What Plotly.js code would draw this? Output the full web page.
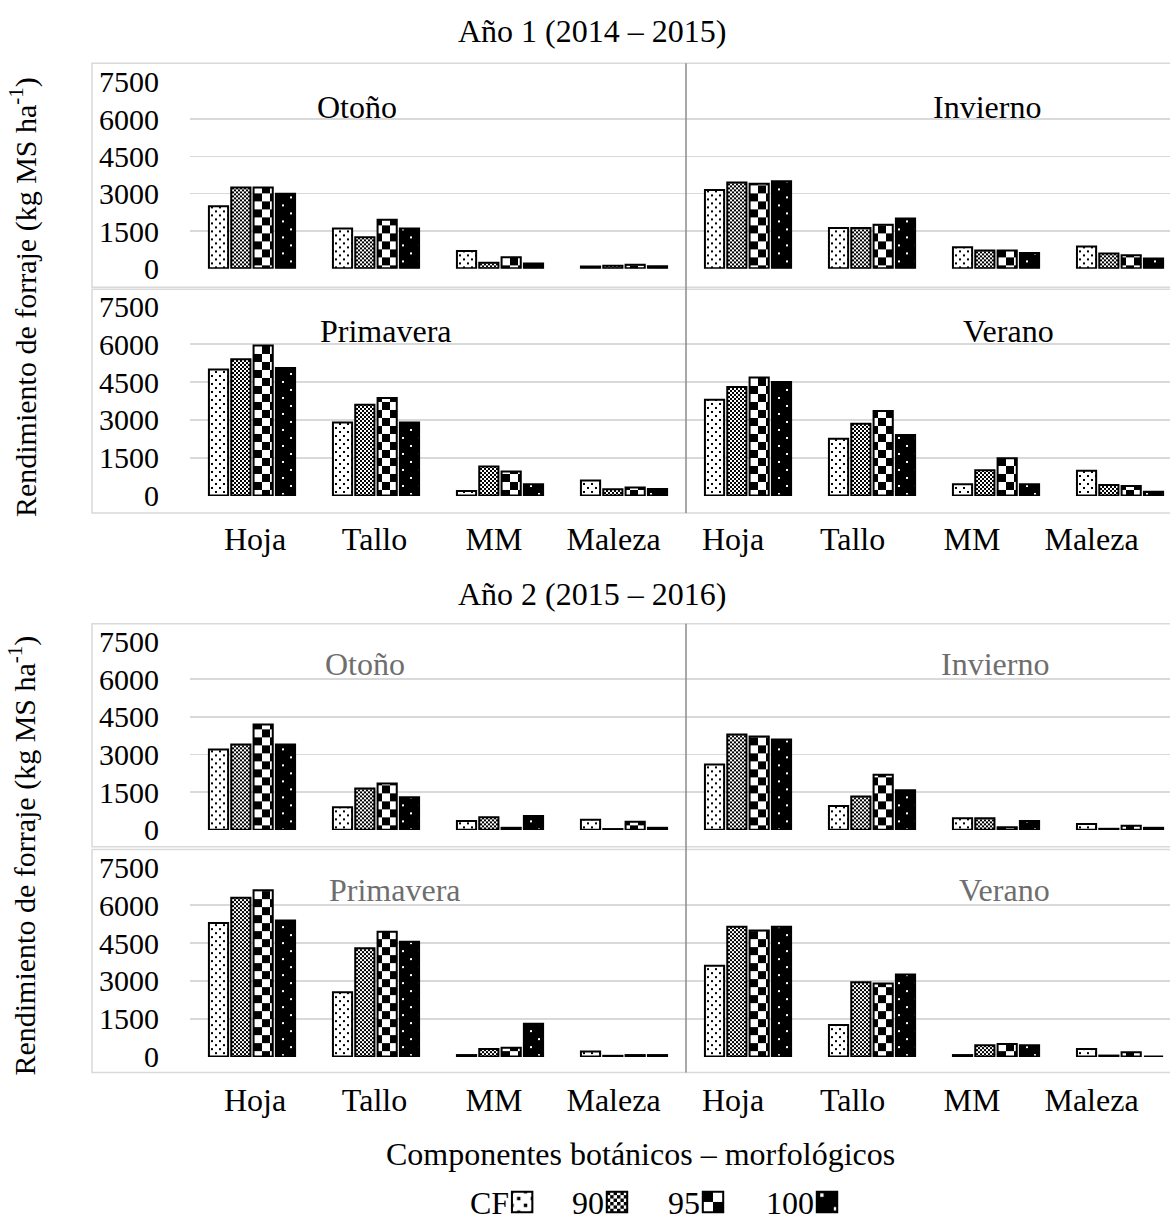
<!DOCTYPE html>
<html><head><meta charset="utf-8">
<script src="https://cdn.plot.ly/plotly-3.0.1.min.js"></script>
<style>html,body{margin:0;padding:0;background:#fff;overflow:hidden}#chart{position:absolute;left:0;top:0}</style>
</head><body><div id="chart"></div>
<script>
// ---- data ----
const categories = ['Hoja', 'Tallo', 'MM', 'Maleza'];
const seriesNames = ['CF', '90', '95', '100'];
const yTicks = [0, 1500, 3000, 4500, 6000, 7500];

// Año 1 (2014 – 2015)
const a1OtoCF  = [2500, 1600, 700, 70];
const a1Oto90  = [3250, 1250, 230, 100];
const a1Oto95  = [3250, 1950, 450, 140];
const a1Oto100 = [3000, 1600, 200, 80];
const a1InvCF  = [3150, 1620, 850, 880];
const a1Inv90  = [3450, 1620, 720, 600];
const a1Inv95  = [3400, 1750, 720, 530];
const a1Inv100 = [3500, 2000, 620, 400];
const a1PriCF  = [5000, 2900, 180, 600];
const a1Pri90  = [5400, 3600, 1150, 250];
const a1Pri95  = [5950, 3870, 950, 320];
const a1Pri100 = [5050, 2900, 450, 260];
const a1VerCF  = [3800, 2250, 450, 980];
const a1Ver90  = [4300, 2850, 1000, 420];
const a1Ver95  = [4680, 3350, 1480, 380];
const a1Ver100 = [4500, 2400, 450, 150];

// Año 2 (2015 – 2016)
const a2OtoCF  = [3200, 900, 350, 400];
const a2Oto90  = [3400, 1650, 500, 30];
const a2Oto95  = [4200, 1850, 80, 320];
const a2Oto100 = [3400, 1300, 550, 80];
const a2InvCF  = [2600, 950, 460, 230];
const a2Inv90  = [3800, 1330, 460, 40];
const a2Inv95  = [3720, 2200, 100, 160];
const a2Inv100 = [3600, 1580, 350, 80];
const a2PriCF  = [5300, 2550, 60, 200];
const a2Pri90  = [6300, 4300, 300, 30];
const a2Pri95  = [6600, 4950, 350, 60];
const a2Pri100 = [5400, 4550, 1300, 60];
const a2VerCF  = [3600, 1250, 60, 300];
const a2Ver90  = [5150, 2950, 450, 40];
const a2Ver95  = [5000, 2900, 500, 170];
const a2Ver100 = [5150, 3250, 450, 0];

const yearTitles = ['Año 1 (2014 – 2015)', 'Año 2 (2015 – 2016)'];
const seasonNames = ['Otoño', 'Invierno', 'Primavera', 'Verano'];
const yTitle = 'Rendimiento de forraje (kg MS ha<sup>-1</sup>)';
const xTitle = 'Componentes botánicos – morfológicos';

// ---- layout helpers (design grid 1170 x 1228, figure follows the actual viewport) ----
const DW = 1170, DH = 1228;
const W = window.innerWidth || DW;
const H = window.innerHeight || DH;
document.getElementById('chart').style.width = W + 'px';
document.getElementById('chart').style.height = H + 'px';
const sx = W / DW, sy = H / DH;
const px = v => v / DW;
const py = v => 1 - v / DH;
const FONT = 'Liberation Serif, Times New Roman, serif';
const FS = 32;

const rows = [
  { left: [a1OtoCF, a1Oto90, a1Oto95, a1Oto100], right: [a1InvCF, a1Inv90, a1Inv95, a1Inv100], zero: 271, top: 82.5, showX: false },
  { left: [a1PriCF, a1Pri90, a1Pri95, a1Pri100], right: [a1VerCF, a1Ver90, a1Ver95, a1Ver100], zero: 500.5, top: 309.3, showX: true },
  { left: [a2OtoCF, a2Oto90, a2Oto95, a2Oto100], right: [a2InvCF, a2Inv90, a2Inv95, a2Inv100], zero: 838, top: 648, showX: false },
  { left: [a2PriCF, a2Pri90, a2Pri95, a2Pri100], right: [a2VerCF, a2Ver90, a2Ver95, a2Ver100], zero: 1067, top: 876, showX: true }
];

const nativePatterns = [
  { shape: '.', fgcolor: '#000', bgcolor: '#fff', size: 6, solidity: 0.12 },
  { shape: 'x', fgcolor: '#000', bgcolor: '#fff', size: 4, solidity: 0.45 },
  { shape: '+', fgcolor: '#000', bgcolor: '#fff', size: 16, solidity: 0.5 },
  { shape: '.', fgcolor: '#fff', bgcolor: '#000', size: 8, solidity: 0.06 }
];

const xPos = categories.map((c, i) => i).concat(categories.map((c, i) => i + 4));
const xText = categories.concat(categories);
// category labels sit on a slightly tighter pitch than the bar groups (as in the reference)
const labelPitch = 119.5 / 124, labelShift = 3 / 124;
const labelPos = xPos.map(i => labelShift + i * labelPitch);

const data = [];
const layout = {
  width: W, height: H,
  margin: { l: 0, r: 0, t: 0, b: 0 },
  paper_bgcolor: '#fff', plot_bgcolor: 'rgba(0,0,0,0)',
  font: { family: FONT, size: FS, color: '#000' },
  barmode: 'group', bargap: 0.28, bargroupgap: 0.14,
  showlegend: true,
  legend: { orientation: 'h', x: 0.56, xanchor: 'center', y: py(1212), yanchor: 'middle',
            font: { family: FONT, size: FS, color: '#000' }, bgcolor: 'rgba(0,0,0,0)' },
  shapes: [], annotations: []
};

const pad = 12;
rows.forEach((r, k) => {
  const n = k + 1;
  const sfx = n === 1 ? '' : String(n);
  const kpx = (r.zero - r.top) / 7500;
  seriesNames.forEach((name, s) => {
    data.push({
      type: 'bar', name: name, legendgroup: name, showlegend: k === 0,
      x: xPos, y: r.left[s].concat(r.right[s]),
      xaxis: 'x' + sfx, yaxis: 'y' + sfx,
      marker: { color: nativePatterns[s].bgcolor, line: { color: '#000', width: 2 }, pattern: nativePatterns[s] },
      hoverinfo: 'skip'
    });
  });
  layout['xaxis' + sfx] = {
    domain: [px(190), 1], range: [-0.5, 7.403], anchor: 'y' + sfx,
    showgrid: false, zeroline: false, showline: false, ticks: '',
    tickmode: 'array', tickvals: labelPos, ticktext: xText,
    showticklabels: r.showX, ticklabelstandoff: Math.round(21 * sy),
    tickfont: { family: FONT, size: FS, color: '#000' }
  };
  layout['yaxis' + sfx] = {
    domain: [py(r.zero + pad * kpx), py(r.top - pad * kpx)], range: [-pad, 7500 + pad], anchor: 'x' + sfx,
    showgrid: true, gridcolor: '#d9d9d9', gridwidth: 1.6, zeroline: false, showline: false, ticks: '',
    tickmode: 'array', tickvals: yTicks, ticktext: yTicks.map(String), ticklabelstandoff: Math.round(30 * sx),
    tickfont: { family: FONT, size: 30, color: '#000' }
  };
});

// frames & dividers
const frames = [[64, 290], [292, 518], [630, 855], [858, 1083]];
frames.forEach(f => layout.shapes.push({
  type: 'rect', xref: 'paper', yref: 'paper', x0: px(92), x1: 1.02, y0: py(f[1]), y1: py(f[0]),
  line: { color: '#d9d9d9', width: 1.5 }, fillcolor: 'rgba(0,0,0,0)', layer: 'below'
}));
[[64, 518, 'x'], [630, 1083, 'x3']].forEach(d => layout.shapes.push({
  type: 'line', xref: d[2], yref: 'paper', x0: 3.5, x1: 3.5, y0: py(d[1]), y1: py(d[0]),
  line: { color: '#8c8c8c', width: 1.5 }
}));

function ann(text, x, y, opts) {
  layout.annotations.push(Object.assign({
    text: text, xref: 'paper', yref: 'paper', x: px(x), y: py(y), showarrow: false,
    xanchor: 'center', yanchor: 'middle', font: { family: FONT, size: FS, color: '#000' }
  }, opts || {}));
}
ann(yearTitles[0], 592, 31);
ann(yearTitles[1], 592, 600);
ann(yTitle, 23, 300, { textangle: -90, font: { family: FONT, size: 30, color: '#000' } });
ann(yTitle, 23, 864, { textangle: -90, font: { family: FONT, size: 30, color: '#000' } });
ann(xTitle, 640, 1165);
const panelPos1 = [[357, 108], [987, 108], [386, 334], [1008, 334]];
const panelPos2 = [[365, 671], [995, 671], [395, 899], [1005, 899]];
seasonNames.forEach((s, i) => {
  ann(s, panelPos1[i][0], panelPos1[i][1]);
  ann(s, panelPos2[i][0], panelPos2[i][1], { font: { family: FONT, size: FS, color: '#6e6e6e' } });
});

// legend entry text start positions (design px), text drawn before its swatch as in the reference
const legendTextX = [470, 572, 668, 766];
const legendShiftY = 2;

function applyPatterns(gd) {
  const NS = 'http://www.w3.org/2000/svg';
  const svg = gd.querySelector('svg.main-svg');
  let defs = svg.querySelector('defs');
  if (!defs) { defs = document.createElementNS(NS, 'defs'); svg.insertBefore(defs, svg.firstChild); }
  function mk(id, size, bg, fg, rects) {
    const p = document.createElementNS(NS, 'pattern');
    p.setAttribute('id', id); p.setAttribute('patternUnits', 'userSpaceOnUse');
    p.setAttribute('width', size); p.setAttribute('height', size);
    const b = document.createElementNS(NS, 'rect');
    b.setAttribute('width', size); b.setAttribute('height', size); b.setAttribute('fill', bg);
    p.appendChild(b);
    rects.forEach(r => {
      const e = document.createElementNS(NS, 'rect');
      e.setAttribute('x', r[0]); e.setAttribute('y', r[1]); e.setAttribute('width', r[2]); e.setAttribute('height', r[3]);
      e.setAttribute('fill', fg); p.appendChild(e);
    });
    defs.appendChild(p);
  }
  mk('patCF', 8, '#fff', '#000', [[1, 1, 2, 2], [5, 5, 2, 2]]);
  mk('pat90', 4, '#fff', '#000', [[0, 0, 2, 2], [2, 2, 2, 2]]);
  mk('pat95', 16, '#fff', '#000', [[0, 0, 8, 8], [8, 8, 8, 8]]);
  mk('pat100', 16, '#000', '#fff', [[4, 3, 2, 2], [12, 11, 2, 2]]);
  const idOf = name => 'pat' + name;
  gd.querySelectorAll('.barlayer .trace').forEach(g => {
    const d = g.__data__; const t = d && d[0] && d[0].trace;
    if (!t) return;
    g.querySelectorAll('path').forEach(p => { p.style.fill = 'url(#' + idOf(t.name) + ')'; });
  });
  const sb = gd.querySelector('.legend .scrollbox');
  if (sb) sb.removeAttribute('clip-path');
  gd.querySelectorAll('.legend .traces').forEach(g => {
    const d = g.__data__; const t = d && d[0] && d[0].trace;
    if (!t) return;
    const txt = g.querySelector('.legendtext');
    let w = 0;
    if (txt) { w = txt.getComputedTextLength(); txt.setAttribute('x', 0); }
    g.querySelectorAll('.legendpoints path').forEach(p => {
      p.style.fill = 'url(#' + idOf(t.name) + ')';
      p.setAttribute('transform', 'translate(' + (w + 13) + ',0) scale(1.7)');
      p.style.strokeWidth = '1.2px';
    });
    const idx = seriesNames.indexOf(t.name);
    if (idx >= 0) {
      const cur = g.getCTM().e;
      const tb = g.transform.baseVal.consolidate();
      const tx = tb ? tb.matrix.e : 0, ty = tb ? tb.matrix.f : 0;
      g.setAttribute('transform', 'translate(' + (tx + legendTextX[idx] * sx - cur) + ',' + (ty + legendShiftY * sy) + ')');
    }
  });
}

Plotly.newPlot('chart', data, layout, { staticPlot: true, displayModeBar: false }).then(applyPatterns);
</script>
</body></html>
